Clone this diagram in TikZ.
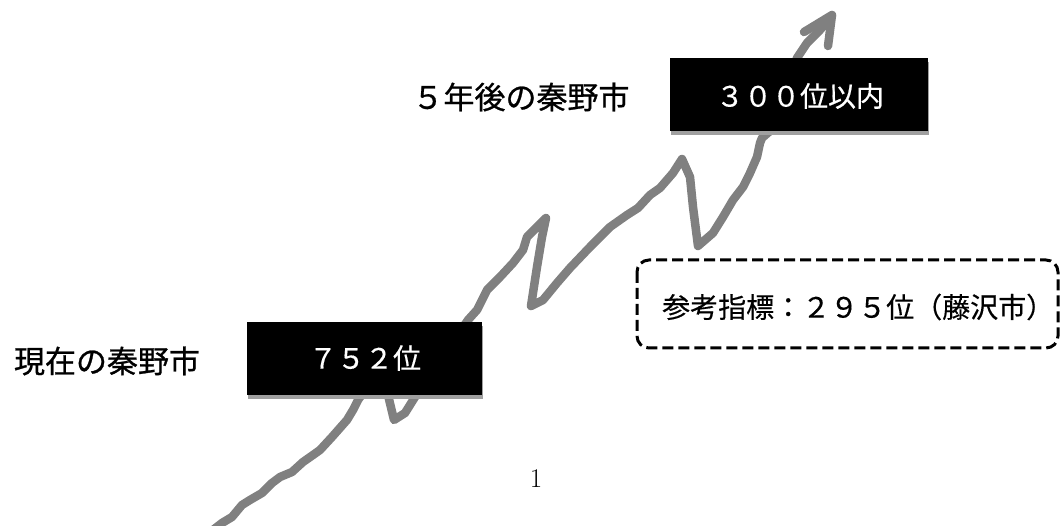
\documentclass[tikz,border=0pt]{standalone}
\usepackage{fontspec}
\newfontfamily\jp[FakeBold=0.8]{Noto Sans CJK JP}
\newfontfamily\jpl[FakeBold=0.4]{Noto Sans CJK JP}
\begin{document}
\begin{tikzpicture}[x=1pt,y=-1pt,
  trend/.style={color={rgb,255:red,128;green,128;blue,128}, line width=8.5pt, line join=round, line cap=round},
  shadowbox/.style={fill={rgb,255:red,160;green,160;blue,160}},
  lbl/.style={font=\jp\fontsize{31}{31}\selectfont, inner sep=0pt},
  boxtxt/.style={font=\jpl\fontsize{28}{28}\selectfont, text=white, inner sep=0pt},
  refbox/.style={draw=black, line width=3pt, dash pattern=on 11pt off 5pt, rounded corners=12pt}
]
\useasboundingbox (0,0) rectangle (1060,526);
% trend line
\draw[trend] (213,530) -- (222,523) -- (232,517) -- (242,505) -- (250,500) -- (262,493) -- (272,483) -- (280,477) -- (292,472) -- (303,462) -- (313,455) -- (320,450) -- (332,437) -- (347,420) -- (353,410) -- (358,400) -- (363,393) -- (380,345) -- (388,395) -- (394,420) -- (405,413) -- (415,397) -- (468,320) -- (477,310) -- (487,290) -- (500,277) -- (513,263) -- (523,250) -- (527,237) -- (537,227) -- (546,218) -- (542,237) -- (537,267) -- (531,306) -- (543,300) -- (557,283) -- (570,268) -- (590,247) -- (610,227) -- (627,215) -- (638,208) -- (650,195) -- (660,188) -- (673,173) -- (682,159) -- (690,177) -- (693,207) -- (698,246) -- (713,233) -- (723,217) -- (733,200) -- (743,187) -- (750,173) -- (757,157) -- (760,143) -- (762,138) -- (770,131) -- (797,58) -- (807,43) -- (820,30) -- (832,16);
\draw[trend] (804,32) -- (832,15) -- (828,46);
% shadows
\fill[shadowbox] (248,326) rectangle (483,399);
\fill[shadowbox] (671,62) rectangle (929,135);
% boxes
\fill[black] (247,322) rectangle (482,395);
\fill[black] (670,58) rectangle (928,131);
\node[boxtxt] (b1) at (365,358) {７５２位};
\node[boxtxt] (b2) at (800,96) {３００位以内};
% labels
\node[lbl] (l1) at (107,361) {現在の秦野市};
\node[lbl] (l2) at (521,97) {５年後の秦野市};
% reference box
\draw[refbox] (637,260) rectangle (1058,348);
\node[font=\jpl\fontsize{28}{28}\selectfont, inner sep=0pt, anchor=west] (r) at (662,307) {参考指標：２９５位（藤沢市）};
% page number
\node[font=\fontsize{27}{27}\selectfont, inner sep=0pt] (p) at (536,479) {1};
\end{tikzpicture}
\end{document}
